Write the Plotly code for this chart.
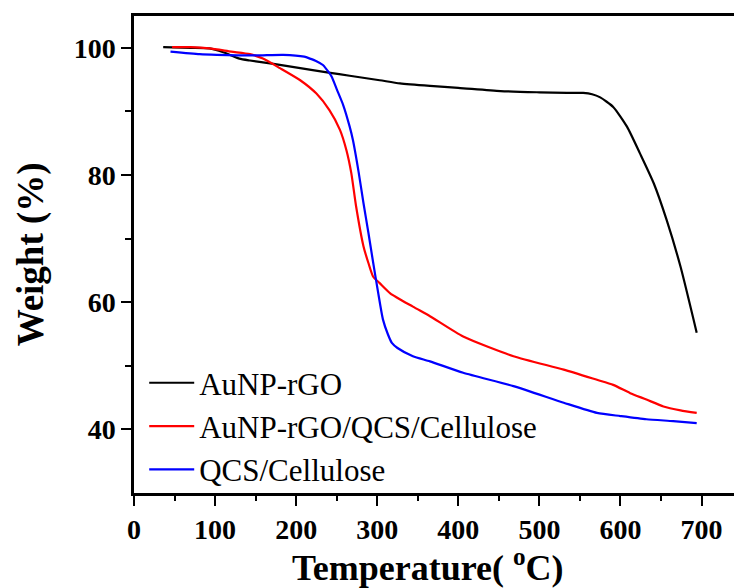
import plotly.graph_objects as go

# AuNP-rGO (black)
t_black = [36, 70, 93, 110, 120, 130, 143, 170, 205, 240, 266, 303, 328, 365, 400, 452, 500,
           534, 554, 565, 575, 591, 608, 624, 641, 657, 674, 694]
w_black = [100.1, 100.0, 99.9, 99.3, 98.8, 98.3, 98.0, 97.5, 96.8, 96.1, 95.6, 94.9, 94.4, 94.0,
           93.7, 93.2, 93.0, 92.9, 92.9, 92.7, 92.2, 90.7, 87.6, 83.4, 78.7, 72.9, 65.6, 55.2]

# AuNP-rGO/QCS/Cellulose (red)
t_red = [47, 70, 93, 120, 143, 159, 180, 205, 225, 241, 254, 262, 268, 274, 283, 289, 295, 303,
         316, 344, 365, 406, 468, 530, 571, 591, 612, 632, 653, 674, 694]
w_red = [100.1, 100.1, 99.9, 99.4, 99.0, 98.3, 96.8, 94.9, 92.8, 90.2, 87.1, 83.9, 80.3, 75.0,
         68.8, 66.2, 64.0, 63.0, 61.4, 59.3, 57.8, 54.6, 51.5, 49.4, 47.8, 47.0, 45.7, 44.7,
         43.6, 43.0, 42.6]

# QCS/Cellulose (blue)
t_blue = [45, 81, 102, 150, 184, 210, 217, 225, 233, 241, 244, 250, 258, 266, 270, 277, 283,
          289, 295, 301, 307, 313, 318, 325, 344, 365, 406, 468, 530, 571, 600, 632, 665, 694]
w_blue = [99.4, 99.0, 98.9, 98.8, 98.9, 98.6, 98.3, 97.9, 97.3, 96.0, 95.4, 93.5, 91.0, 87.6,
          85.5, 80.5, 75.6, 71.0, 66.2, 61.6, 57.3, 55.0, 53.6, 52.8, 51.5, 50.7, 48.9, 46.8,
          44.2, 42.6, 42.1, 41.6, 41.3, 41.0]

x_ticks = [0, 100, 200, 300, 400, 500, 600, 700]
y_ticks = [40, 60, 80, 100]

FONT = "Liberation Serif, Times New Roman, serif"

fig = go.Figure()
for t, w, name, color in [(t_black, w_black, "AuNP-rGO", "#000000"),
                          (t_red, w_red, "AuNP-rGO/QCS/Cellulose", "#ff0000"),
                          (t_blue, w_blue, "QCS/Cellulose", "#0000ff")]:
    fig.add_trace(go.Scatter(x=t, y=w, mode="lines", name=name,
                             line=dict(color=color, width=2.2, shape="spline", smoothing=0.6)))

fig.update_layout(
    width=734, height=588,
    margin=dict(l=134, r=0, t=16, b=95),
    paper_bgcolor="white", plot_bgcolor="white",
    font=dict(family=FONT, color="black"),
    showlegend=True,
    legend=dict(x=0.017, y=0.287, xanchor="left", yanchor="top",
                font=dict(family=FONT, size=31, color="black"),
                bgcolor="rgba(0,0,0,0)", tracegroupgap=0, itemwidth=45),
    xaxis=dict(range=[0, 740], tickvals=x_ticks, ticktext=[str(v) for v in x_ticks],
               automargin=False,
               showgrid=False, zeroline=False, showline=True, linecolor="black", linewidth=2.5,
               mirror=True, ticks="outside", ticklen=10, tickwidth=2, tickcolor="black",
               minor=dict(ticks="outside", dtick=50, ticklen=5, tickwidth=2, tickcolor="black"),
               tickfont=dict(family=FONT, size=28, weight="bold", color="black")),
    yaxis=dict(range=[30, 105], tickvals=y_ticks, ticktext=[str(v) for v in y_ticks],
               automargin=False,
               showgrid=False, zeroline=False, showline=True, linecolor="black", linewidth=2.5,
               mirror=False, ticks="outside", ticklen=10, tickwidth=2, tickcolor="black",
               minor=dict(ticks="outside", tickvals=[50, 70, 90], ticklen=6, tickwidth=2,
                          tickcolor="black"),
               tickfont=dict(family=FONT, size=28, weight="bold", color="black")),
    annotations=[
        dict(text="Temperature( <sup>o</sup>C)", xref="paper", yref="paper",
             x=0.49, y=-0.152, xanchor="center", yanchor="middle", showarrow=False,
             font=dict(family=FONT, size=36, weight="bold", color="black")),
        dict(text="Weight (%)", xref="paper", yref="paper", textangle=-90,
             x=-0.172, y=0.5, xanchor="center", yanchor="middle", showarrow=False,
             font=dict(family=FONT, size=37, weight="bold", color="black")),
    ],
)

fig.write_html("out.html", config={"displayModeBar": False},
               post_script="document.body.style.margin='0';document.body.style.overflow='hidden';")
